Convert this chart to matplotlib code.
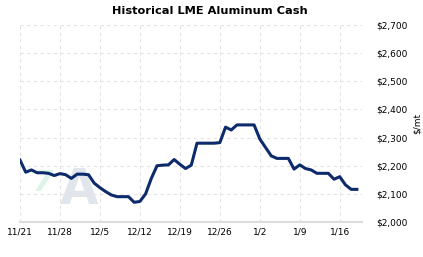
import matplotlib
matplotlib.use("Agg")
import matplotlib.pyplot as plt
import numpy as np

# daily cash price, 11/21 .. 1/19 (weekends carried forward)
prices = [
    2220, 2177, 2185, 2175, 2175, 2173, 2165, 2172, 2168, 2155,
    2170, 2170, 2168, 2138, 2122, 2108, 2096, 2090, 2090, 2090,
    2070, 2073, 2100, 2155, 2200, 2202, 2203, 2222, 2205, 2190,
    2202, 2280, 2280, 2280, 2280, 2282, 2337, 2327, 2345, 2345,
    2345, 2345, 2295, 2265, 2235, 2226, 2226, 2226, 2188, 2203,
    2190, 2185, 2173, 2173, 2173, 2152, 2161, 2132, 2116, 2116,
]
tick_days = [0, 7, 14, 21, 28, 35, 42, 49, 56]
tick_labels = ["11/21", "11/28", "12/5", "12/12", "12/19", "12/26", "1/2", "1/9", "1/16"]
y_ticks = [2000, 2100, 2200, 2300, 2400, 2500, 2600, 2700]

W, H = 423, 257
fig = plt.figure(figsize=(W / 100, H / 100), dpi=100)
ax = fig.add_axes([20 / W, (H - 222) / H, 342 / W, 197 / H])

# faint watermark logo
ax.text(0.068, 0.2, "7", transform=ax.transAxes, fontsize=21, fontweight="bold",
        style="italic", color="#dcf5e8", ha="center", va="center", zorder=0)
ax.text(0.172, 0.16, "A", transform=ax.transAxes, fontsize=36, fontweight="bold",
        color="#e1e5ec", ha="center", va="center", zorder=0)

days = np.arange(len(prices))
ax.plot(days, prices, color="#0d2b6b", lw=2.2, solid_joinstyle="round", zorder=3)

ax.set_xlim(0, 59.9)
ax.set_ylim(2000, 2700)
ax.set_xticks(tick_days)
ax.set_xticklabels(tick_labels)
ax.set_yticks(y_ticks)
ax.set_yticklabels([f"${v:,}" for v in y_ticks])
ax.yaxis.tick_right()
ax.yaxis.set_label_position("right")
ax.set_ylabel("$/mt", fontsize=6.5, labelpad=4)
ax.tick_params(length=0, labelsize=6.5, pad=4)
ax.tick_params(axis="y", pad=10)

ax.grid(True, color="#e4e4e4", ls=(0, (3, 3)), lw=0.8)
for s in ("top", "left", "right"):
    ax.spines[s].set_visible(False)
ax.spines["bottom"].set_color("#dcdcdc")
ax.spines["bottom"].set_linewidth(1.5)

fig.text(0.497, 1 - 11 / H, "Historical LME Aluminum Cash", ha="center", va="center",
         fontsize=8.2, fontweight="bold")

fig.savefig("out.png", dpi=100)
